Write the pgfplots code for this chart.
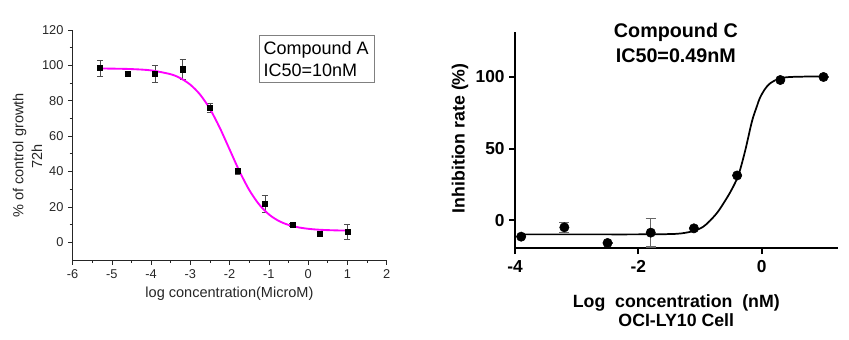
\documentclass[border=0pt]{standalone}
\usepackage{pgfplots}
\pgfplotsset{compat=1.18}
\usepackage{fontspec}
\setmainfont{Liberation Sans}
\definecolor{mag}{RGB}{255,0,255}
\begin{document}
\begin{tikzpicture}
\useasboundingbox (0,0) rectangle (636.75pt,-254.25pt);
% ---------------- Left chart ----------------
\begin{axis}[
  at={(54.5pt,-195pt)}, anchor=south west,
  scale only axis, width=235.5pt, height=172.5pt,
  xmin=-6, xmax=2, ymin=-10, ymax=120,
  axis x line*=bottom, axis y line*=left,
  xtick={-6,-5,-4,-3,-2,-1,0,1,2},
  xticklabels={-6,-5,-4,-3,-2,-1,0,1,2},
  ytick={0,20,40,60,80,100,120},
  yticklabels={0,20,40,60,80,100,120},
  minor x tick num=1, minor y tick num=1,
  tick align=outside,
  major tick length=3.4pt, minor tick length=2.2pt,
  axis line style={black!85, line width=0.7pt},
  every tick/.style={black!85, line width=0.6pt},
  tick label style={font=\fontsize{9.6}{9.6}\selectfont, text=black!85},
  clip=false,
]
\addplot[only marks, mark=square*, mark size=1.9pt, black,
  error bars/.cd, y dir=both, y explicit,
  error bar style={black!70, line width=0.5pt},
  error mark options={rotate=90, black!70, mark size=2.25pt, line width=0.5pt}]
  table[x=x, y=y, y error=e] {
  x y e
  -5.3 98.4 4.5
  -4.6 95.2 1.2
  -3.9 95.2 5.0
  -3.2 97.8 5.8
  -2.5 75.9 2.6
  -1.8 40.2 1.8
  -1.1 21.8 4.7
  -0.4 10.0 0.8
  0.3 4.7 0.8
  1.0 5.8 4.2
  };
\addplot[mag, line width=1.4pt, smooth] coordinates {
  (-5.3,98.23) (-5.0,98.17) (-4.5,97.91) (-4.0,97.16) (-3.5,94.98)
  (-3.25,92.70) (-3.0,89.04) (-2.75,83.39) (-2.5,75.27) (-2.25,64.65)
  (-2.0,52.40) (-1.75,40.15) (-1.5,29.53) (-1.25,21.41) (-1.0,15.76)
  (-0.75,12.10) (-0.5,9.82) (-0.25,8.45) (0.0,7.64) (0.25,7.16)
  (0.5,6.89) (0.75,6.72) (1.0,6.63)
};
\end{axis}
\node[draw=black!50, line width=0.7pt, anchor=north west, minimum width=86.5pt, minimum height=34.8pt, inner sep=0pt] at (194.25pt,-26.5pt) {};
\node[anchor=base west, inner sep=0pt, font=\fontsize{13.5}{13.5}\selectfont] at (197.5pt,-40.7pt) {Compound A};
\node[anchor=base west, inner sep=0pt, font=\fontsize{13.5}{13.5}\selectfont] at (197.5pt,-57.7pt) {IC50=10nM};
\node[anchor=base, inner sep=0pt, font=\fontsize{10.9}{10.9}\selectfont, text=black!85] at (172.1pt,-223.2pt) {log concentration(MicroM)};
\node[anchor=base, rotate=90, inner sep=0pt, font=\fontsize{10.9}{10.9}\selectfont, text=black!85] at (17.6pt,-116.6pt) {\% of control growth};
\node[anchor=base, rotate=90, inner sep=0pt, font=\fontsize{10.9}{10.9}\selectfont, text=black!85] at (31.5pt,-117.5pt) {72h};
% ---------------- Right chart ----------------
\begin{axis}[
  at={(386.25pt,-186.2pt)}, anchor=south west,
  scale only axis, width=242.25pt, height=162pt,
  xmin=-4, xmax=1.235, ymin=-19.5, ymax=131.2,
  axis x line*=bottom, axis y line*=left,
  xtick={-4,-2,0}, xticklabels={-4,-2,0},
  ytick={0,50,100}, yticklabels={0,50,100},
  tick align=outside, major tick length=4.3pt,
  axis line style={black, line width=1.6pt},
  every tick/.style={black, line width=1.6pt},
  tick label style={font=\bfseries\fontsize{13}{13}\selectfont},
  xticklabel style={yshift=-1.5pt},
  clip=false,
]
\addplot[black, line width=1.3pt, smooth] coordinates {
  (-3.9,-9.8) (-3.0,-9.8) (-2.0,-9.8) (-1.5,-9.6) (-1.3,-9.1) (-1.1,-7.4)
  (-0.95,-4.5) (-0.84,-0.3) (-0.72,5.5) (-0.62,11.9) (-0.5,20.5) (-0.38,31.4)
  (-0.27,48.5) (-0.16,69.0) (-0.08,79.5) (-0.03,85.5) (0.05,91.5) (0.13,95.4)
  (0.27,98.8) (0.4,99.8) (0.6,100.2) (1.0,100.4)
};
\addplot[only marks, mark=*, mark size=3.5pt, black,
  error bars/.cd, y dir=both, y explicit,
  error bar style={black!60, line width=0.9pt},
  error mark options={rotate=90, black!60, mark size=3.75pt, line width=0.9pt}]
  table[x=x, y=y, y error=e] {
  x y e
  -3.9 -11.4 0
  -3.2 -4.9 3.5
  -2.5 -15.8 0
  -1.8 -8.6 10
  -1.1 -5.6 0
  -0.4 31.3 0
  0.3 97.9 0
  1.0 100.0 0
  };
\end{axis}
\node[anchor=base, inner sep=0pt, font=\bfseries\fontsize{14.8}{14.8}\selectfont] at (506.9pt,-28pt) {Compound C};
\node[anchor=base, inner sep=0pt, font=\bfseries\fontsize{14.8}{14.8}\selectfont] at (506.9pt,-47pt) {IC50=0.49nM};
\node[anchor=base, inner sep=0pt, font=\bfseries\fontsize{13.3}{13.3}\selectfont] at (507.2pt,-230.5pt) {Log\ \ concentration\ \ (nM)};
\node[anchor=base, inner sep=0pt, font=\bfseries\fontsize{13.3}{13.3}\selectfont] at (507.2pt,-245pt) {OCI-LY10 Cell};
\node[anchor=base, rotate=90, inner sep=0pt, font=\bfseries\fontsize{13.3}{13.3}\selectfont] at (348.5pt,-103.7pt) {Inhibition rate (\%)};
\end{tikzpicture}
\end{document}
